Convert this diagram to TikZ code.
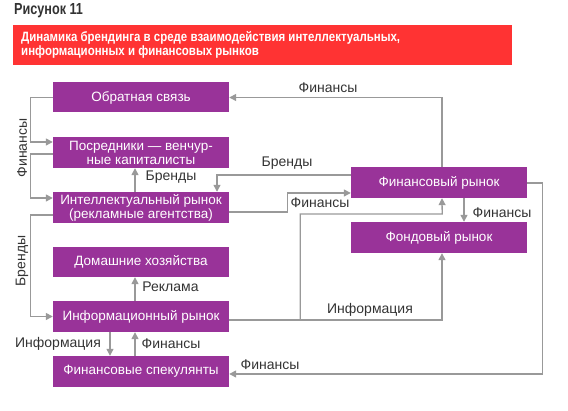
\documentclass[tikz,border=0pt]{standalone}
\usepackage{fontspec}
\setmainfont{Liberation Sans}
\usetikzlibrary{arrows.meta,calc}
\definecolor{boxc}{HTML}{993399}
\definecolor{redc}{HTML}{FF3333}
\definecolor{linec}{HTML}{999999}
\definecolor{txtc}{HTML}{333333}
\tikzset{
  box/.style={fill=boxc,text=white,minimum width=176pt,minimum height=30pt,inner sep=0pt,align=center,font=\fontsize{13.5}{14}\selectfont},
  arr/.style={draw=linec,line width=1.3pt,-{Triangle[length=7pt,width=7pt]}},
  lbl/.style={text=txtc,font=\fontsize{14}{15}\selectfont,inner sep=0pt},
  ttl/.style={anchor=base west,inner sep=0pt,text=white}
}
\begin{document}
\begin{tikzpicture}[x=1pt,y=1pt]
\useasboundingbox (0,0) rectangle (568,411);
% header
\node[anchor=base west,inner sep=0pt,text=txtc] (fig) at (14,396) {\scalebox{0.79}[1]{\fontsize{16}{17}\selectfont\bfseries Рисунок 11}};
\fill[redc] (13,346) rectangle (512,386);
\node[ttl] (title1) at (21,369) {\scalebox{0.85}[1]{\fontsize{13.5}{14}\selectfont\bfseries Динамика брендинга в среде взаимодействия интеллектуальных,}};
\node[ttl] (title2) at (21,355) {\scalebox{0.85}[1]{\fontsize{13.5}{14}\selectfont\bfseries информационных и финансовых рынков}};
% boxes
\node[box] (fb) at (141,313.5) {Обратная связь};
\node[box,minimum height=31pt] (pos) at (141,258.5) {Посредники — венчур-\\ные капиталисты};
\node[box,minimum height=31pt] (intel) at (141,203.5) {Интеллектуальный рынок\\(рекламные агентства)};
\node[box] (dom) at (141,149) {Домашние хозяйства};
\node[box,minimum height=31pt] (info) at (141,94.5) {Информационный рынок};
\node[box,minimum height=31pt] (spec) at (141,39.5) {Финансовые спекулянты};
\node[box,minimum height=31pt] (fin) at (439,228.5) {Финансовый рынок};
\node[box,minimum height=31pt] (fond) at (439,173.5) {Фондовый рынок};
% connectors
\draw[arr] ([xshift=3pt]fin.north) |- (fb.east);
\draw[arr] (fb.west) -- ++(-22,0) |- ([yshift=10.5pt]pos.west);
\draw[arr] ([yshift=-1.5pt]pos.west) -- ++(-22,0) |- ([yshift=9.5pt]intel.west);
\draw[arr] ([yshift=-7.5pt]intel.west) -- ++(-22,0) |- (info.west);
\draw[arr] ([xshift=-6pt]intel.north) -- ([xshift=-6pt]pos.south);
\draw[arr] ([yshift=7.5pt]fin.west) -| ([xshift=76pt]intel.north);
\draw[arr] ([yshift=-4.5pt]intel.east) -- ++(58,0) |- ([yshift=-10.5pt]fin.west);
\draw[arr] ([xshift=25pt]fin.south) -- ([xshift=25pt]fond.north);
\draw[arr] ([yshift=-3.5pt]info.east) -| ([xshift=3pt]fond.south);
\coordinate (br) at ($([yshift=-3.5pt]info.east)+(71,0)$);
\draw[arr] (br) |- ++(142,106) -- ([xshift=3pt]fin.south);
\draw[arr] ([yshift=-0.5pt]fin.east) -- ++(15,0) |- ([yshift=-2.5pt]spec.east);
\draw[arr] ([xshift=-31pt]info.south) -- ([xshift=-31pt]spec.north);
\draw[arr] ([xshift=-6pt]spec.north) -- ([xshift=-6pt]info.south);
\draw[arr] ([xshift=-6pt]info.north) -- ([xshift=-6pt]dom.south);
% labels
\node[lbl] (l1) at (328,323) {Финансы};
\node[lbl,rotate=90] (l2) at (22,263) {Финансы};
\node[lbl] (l3) at (171,234) {Бренды};
\node[lbl] (l4) at (287,248) {Бренды};
\node[lbl] (l5) at (320,208) {Финансы};
\node[lbl] (l6) at (502,198) {Финансы};
\node[lbl,rotate=90] (l7) at (22,150) {Бренды};
\node[lbl] (l8) at (170.5,124) {Реклама};
\node[lbl] (l9) at (58,67) {Информация};
\node[lbl] (l10) at (171,67) {Финансы};
\node[lbl] (l11) at (370,101) {Информация};
\node[lbl] (l12) at (270,46) {Финансы};
\end{tikzpicture}
\end{document}
